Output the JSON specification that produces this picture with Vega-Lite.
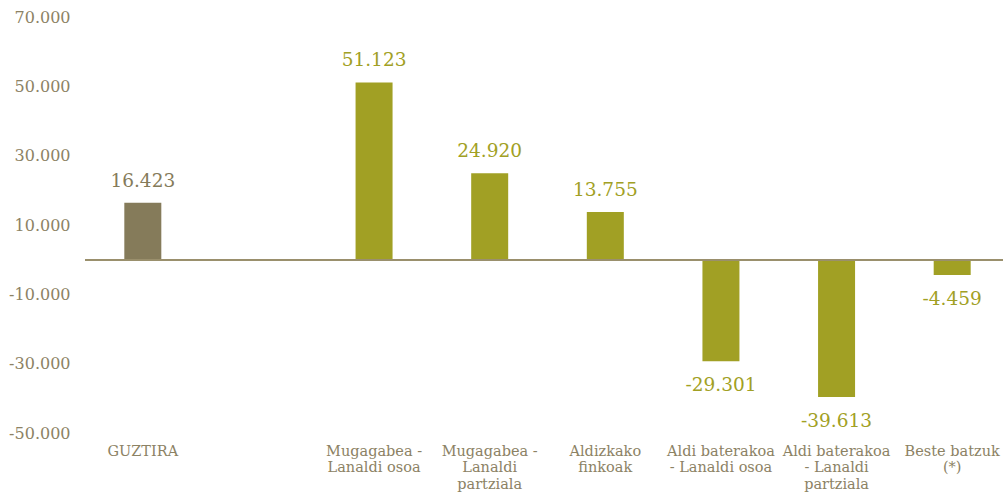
{
  "$schema": "https://vega.github.io/schema/vega-lite/v6.json",
  "width": 925,
  "height": 416,
  "autosize": {"type": "none"},
  "padding": {"left": 85, "top": 17, "right": 0, "bottom": 62},
  "background": "white",
  "config": {
    "view": {"stroke": null},
    "locale": {"number": {"decimal": ",", "thousands": ".", "grouping": [3], "currency": ["", " €"], "minus": "-"}},
    "font": "DejaVu Serif"
  },
  "data": {
    "values": [
      {"category": "GUZTIRA", "value": 16423, "group": "total"},
      {"category": "Mugagabea - Lanaldi osoa", "value": 51123, "group": "detail"},
      {"category": "Mugagabea - Lanaldi partziala", "value": 24920, "group": "detail"},
      {"category": "Aldizkako finkoak", "value": 13755, "group": "detail"},
      {"category": "Aldi baterakoa - Lanaldi osoa", "value": -29301, "group": "detail"},
      {"category": "Aldi baterakoa - Lanaldi partziala", "value": -39613, "group": "detail"},
      {"category": "Beste batzuk (*)", "value": -4459, "group": "detail"}
    ]
  },
  "encoding": {
    "x": {
      "field": "category",
      "type": "nominal",
      "sort": null,
      "scale": {
        "domain": ["GUZTIRA", " ", "Mugagabea - Lanaldi osoa", "Mugagabea - Lanaldi partziala", "Aldizkako finkoak", "Aldi baterakoa - Lanaldi osoa", "Aldi baterakoa - Lanaldi partziala", "Beste batzuk (*)"],
        "paddingInner": 0.68,
        "paddingOuter": 0.34
      },
      "axis": {
        "title": null,
        "orient": "bottom",
        "domain": false,
        "ticks": false,
        "labelAngle": 0,
        "labelPadding": 11,
        "labelBaseline": "top",
        "labelFont": "DejaVu Serif",
        "labelFontSize": 14.5,
        "labelLineHeight": 16.5,
        "labelColor": "#8c8264",
        "labelLimit": 200,
        "labelExpr": "datum.value == 'Mugagabea - Lanaldi osoa' ? ['Mugagabea -', 'Lanaldi osoa'] : datum.value == 'Mugagabea - Lanaldi partziala' ? ['Mugagabea -', 'Lanaldi', 'partziala'] : datum.value == 'Aldizkako finkoak' ? ['Aldizkako', 'finkoak'] : datum.value == 'Aldi baterakoa - Lanaldi osoa' ? ['Aldi baterakoa', '- Lanaldi osoa'] : datum.value == 'Aldi baterakoa - Lanaldi partziala' ? ['Aldi baterakoa', '- Lanaldi', 'partziala'] : datum.value == 'Beste batzuk (*)' ? ['Beste batzuk', '(*)'] : datum.value"
      }
    }
  },
  "layer": [
    {
      "mark": {"type": "bar"},
      "encoding": {
        "y": {
          "field": "value",
          "type": "quantitative",
          "scale": {"domain": [-50000, 70000], "nice": false, "zero": true},
          "axis": {
            "title": null,
            "domain": false,
            "ticks": false,
            "grid": false,
            "values": [-50000, -30000, -10000, 10000, 30000, 50000, 70000],
            "labelExpr": "format(datum.value, ',')",
            "labelPadding": 15,
            "labelFont": "DejaVu Serif",
            "labelFontSize": 16,
            "labelColor": "#8c8264"
          }
        },
        "color": {
          "field": "group",
          "type": "nominal",
          "scale": {"domain": ["total", "detail"], "range": ["#857b5a", "#a1a024"]},
          "legend": null
        }
      }
    },
    {
      "mark": {"type": "rule", "color": "#9a8f6c", "strokeWidth": 1.5},
      "encoding": {"y": {"datum": 0, "type": "quantitative"}, "x": {"value": 0}, "x2": {"value": 940}}
    },
    {
      "transform": [{"filter": "datum.value >= 0"}],
      "mark": {"type": "text", "baseline": "bottom", "dy": -12, "fontSize": 18.5, "font": "DejaVu Serif"},
      "encoding": {
        "y": {"field": "value", "type": "quantitative"},
        "text": {"field": "value", "type": "quantitative", "format": ","},
        "color": {"field": "group", "type": "nominal", "legend": null}
      }
    },
    {
      "transform": [{"filter": "datum.value < 0"}],
      "mark": {"type": "text", "baseline": "top", "dy": 15, "fontSize": 18.5, "font": "DejaVu Serif"},
      "encoding": {
        "y": {"field": "value", "type": "quantitative"},
        "text": {"field": "value", "type": "quantitative", "format": ","},
        "color": {"field": "group", "type": "nominal", "legend": null}
      }
    }
  ]
}
